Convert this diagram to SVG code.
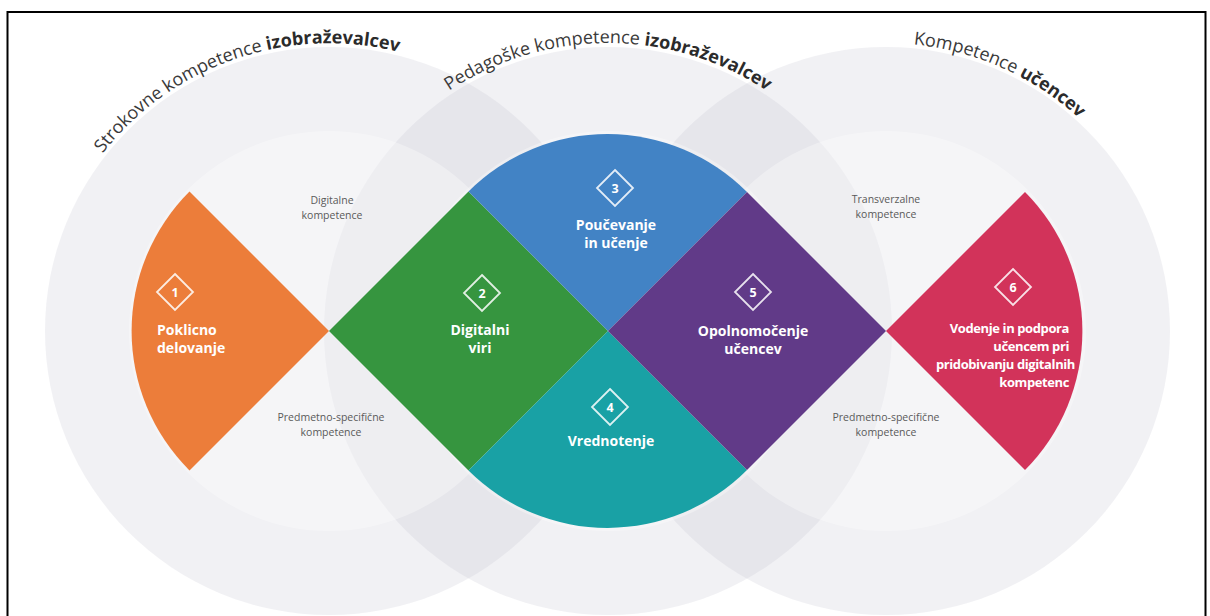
<svg xmlns="http://www.w3.org/2000/svg" width="1210" height="616" viewBox="0 0 1210 616">
  <style>
    .big { fill: #c4c4cf; fill-opacity: 0.24; }
    .inner { fill: #ffffff; fill-opacity: 0.32; }
    .title { font-family: "Open Sans", "Liberation Sans", sans-serif; font-size: 18px; fill: #3a3a3a; }
    .title .b { font-weight: 700; fill: #2b2b2b; }
    .lbl { font-family: "Open Sans", "Liberation Sans", sans-serif; font-size: 14px; font-weight: 700; fill: #ffffff; }
    .lbl6 { font-size: 13px; letter-spacing: -0.4px; text-anchor: end; }
    .num { font-family: "Open Sans", "Liberation Sans", sans-serif; font-size: 12.5px; font-weight: 700; fill: #ffffff; text-anchor: middle; }
    .ico { fill: none; stroke: #ffffff; stroke-opacity: 0.85; stroke-width: 1.8; }
    .sub { font-family: "Open Sans", "Liberation Sans", sans-serif; font-size: 10.5px; fill: #5a5a5a; text-anchor: middle; }
  </style>
  <defs>
    <path id="arcL" d="M49.6,400.7 A288,288 0 0 1 592.1,213.9"/>
    <path id="arcM" d="M321.1,305.9 A288,288 0 0 1 894.9,305.9"/>
    <path id="arcR" d="M633.1,191.4 A288,288 0 0 1 1157.3,424.8"/>
  </defs>
  <rect x="0" y="0" width="1210" height="616" fill="#ffffff"/>

  <g id="circles">
    <circle class="big" cx="329" cy="331" r="284"/>
    <circle class="big" cx="608" cy="331" r="284"/>
    <circle class="big" cx="886" cy="331" r="284"/>
    <circle class="inner" cx="329" cy="331" r="200"/>
    <circle class="inner" cx="608" cy="331" r="200"/>
    <circle class="inner" cx="886" cy="331" r="200"/>
  </g>

  <g id="titles">
    <text class="title"><textPath href="#arcL" startOffset="50%" text-anchor="middle">Strokovne kompetence <tspan class="b">izobraževalcev</tspan></textPath></text>
    <text class="title"><textPath href="#arcM" startOffset="50%" text-anchor="middle">Pedagoške kompetence <tspan class="b">izobraževalcev</tspan></textPath></text>
    <text class="title"><textPath href="#arcR" startOffset="50%" text-anchor="middle">Kompetence <tspan class="b">učencev</tspan></textPath></text>
  </g>

  <g id="node1">
    <path d="M329,331 L189.5,191.5 A197,197 0 0 0 189.5,470.5 Z" fill="#ec7d3a"/>
    <path class="ico" d="M175,274 L193,292 L175,310 L157,292 Z"/>
    <text class="num" x="175" y="296.5">1</text>
    <text class="lbl" x="157" y="335">Poklicno</text>
    <text class="lbl" x="157" y="353">delovanje</text>
  </g>

  <g id="node2">
    <path d="M329,331 L468.5,191.5 L608,331 L468.5,470.5 Z" fill="#36953f"/>
    <path class="ico" d="M482,275 L500,293 L482,311 L464,293 Z"/>
    <text class="num" x="482" y="297.5">2</text>
    <text class="lbl" x="480" y="335" text-anchor="middle">Digitalni</text>
    <text class="lbl" x="480" y="353" text-anchor="middle">viri</text>
  </g>

  <g id="node3">
    <path d="M608,331 L468.5,191.5 A197,197 0 0 1 747,192 Z" fill="#4283c5"/>
    <path class="ico" d="M615,170 L633,188 L615,206 L597,188 Z"/>
    <text class="num" x="615" y="192.5">3</text>
    <text class="lbl" x="616" y="230" text-anchor="middle">Poučevanje</text>
    <text class="lbl" x="616" y="248" text-anchor="middle">in učenje</text>
  </g>

  <g id="node4">
    <path d="M608,331 L747,470 A197,197 0 0 1 468.5,470.5 Z" fill="#19a1a5"/>
    <path class="ico" d="M610,389 L628,407 L610,425 L592,407 Z"/>
    <text class="num" x="610" y="411.5">4</text>
    <text class="lbl" x="611" y="446" text-anchor="middle">Vrednotenje</text>
  </g>

  <g id="node5">
    <path d="M608,331 L747,192 L886,331 L747,470 Z" fill="#613a88"/>
    <path class="ico" d="M753,274 L771,292 L753,310 L735,292 Z"/>
    <text class="num" x="753" y="296.5">5</text>
    <text class="lbl" x="753" y="336" text-anchor="middle">Opolnomočenje</text>
    <text class="lbl" x="753" y="354" text-anchor="middle">učencev</text>
  </g>

  <g id="node6">
    <path d="M886,331 L1025,192 A197,197 0 0 1 1025,470 Z" fill="#d2335a"/>
    <path class="ico" d="M1013,269 L1031,287 L1013,305 L995,287 Z"/>
    <text class="num" x="1013" y="291.5">6</text>
    <text class="lbl lbl6" x="1069" y="333">Vodenje in podpora</text>
    <text class="lbl lbl6" x="1069" y="351">učencem pri</text>
    <text class="lbl lbl6" x="1075" y="369">pridobivanju digitalnih</text>
    <text class="lbl lbl6" x="1069" y="387">kompetenc</text>
  </g>

  <g id="sublabels">
    <text class="sub" x="332" y="204">Digitalne</text>
    <text class="sub" x="332" y="219">kompetence</text>
    <text class="sub" x="331" y="421">Predmetno-specifične</text>
    <text class="sub" x="331" y="436">kompetence</text>
    <text class="sub" x="886" y="203">Transverzalne</text>
    <text class="sub" x="886" y="218">kompetence</text>
    <text class="sub" x="886" y="421">Predmetno-specifične</text>
    <text class="sub" x="886" y="436">kompetence</text>
  </g>

  <g id="frame">
    <rect x="7.5" y="12" width="1198" height="630" fill="none" stroke="#000000" stroke-width="2"/>
  </g>
</svg>
